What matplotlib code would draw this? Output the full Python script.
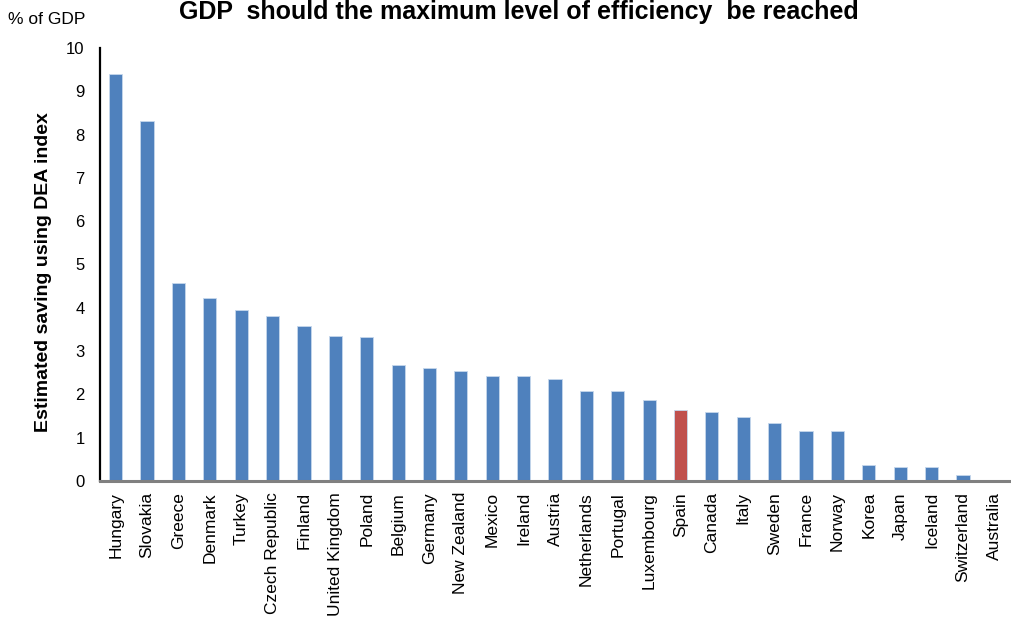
import matplotlib.pyplot as plt
import numpy as np

plt.rcParams['font.family'] = ['Liberation Sans', 'DejaVu Sans']

countries = ['Hungary', 'Slovakia', 'Greece', 'Denmark', 'Turkey', 'Czech Republic',
             'Finland', 'United Kingdom', 'Poland', 'Belgium', 'Germany', 'New Zealand',
             'Mexico', 'Ireland', 'Austria', 'Netherlands', 'Portugal', 'Luxembourg',
             'Spain', 'Canada', 'Italy', 'Sweden', 'France', 'Norway', 'Korea', 'Japan',
             'Iceland', 'Switzerland', 'Australia']
saving = [9.40, 8.31, 4.57, 4.23, 3.95, 3.81, 3.58, 3.35, 3.33, 2.68, 2.61, 2.54,
          2.42, 2.42, 2.36, 2.08, 2.08, 1.87, 1.64, 1.59, 1.48, 1.34, 1.15, 1.15,
          0.37, 0.32, 0.32, 0.14, 0.0]
highlight = 'Spain'

blue = '#4F81BD'
red = '#C0504D'
colors = [red if c == highlight else blue for c in countries]

fig = plt.figure(figsize=(10.11, 6.26), dpi=100)
ax = fig.add_axes([100 / 1011, 1 - 481 / 626, 910 / 1011, 433 / 626])

x = np.arange(len(countries))
ax.bar(x, saving, width=0.42, color=colors, edgecolor='#C6D7EC', linewidth=0.6, zorder=2)

ax.set_xlim(-0.5, len(countries) - 0.5)
ax.set_ylim(0, 10)
ax.set_yticks(range(0, 11))
ax.set_xticks(x)
ax.set_xticklabels(countries, rotation=90, fontsize=12.5)
ax.tick_params(axis='x', length=0, pad=8)
ax.tick_params(axis='y', length=0, pad=11, labelsize=12)

for s in ['top', 'right']:
    ax.spines[s].set_visible(False)
ax.spines['left'].set_color('black')
ax.spines['left'].set_linewidth(1.6)
ax.spines['bottom'].set_color('#808080')
ax.spines['bottom'].set_linewidth(2.2)
ax.spines['bottom'].set_zorder(3)

fig.text(519 / 1011, 1 - 19 / 626, 'GDP  should the maximum level of efficiency  be reached',
         ha='center', va='baseline', fontsize=18, fontweight='bold')
fig.text(8 / 1011, 1 - 24 / 626, '% of GDP', ha='left', va='baseline', fontsize=12.5)
fig.text(44 / 1011, 1 - 272 / 626, 'Estimated saving using DEA index', rotation=90,
         ha='center', va='center', fontsize=14, fontweight='bold')

fig.savefig('out.png', dpi=100)
